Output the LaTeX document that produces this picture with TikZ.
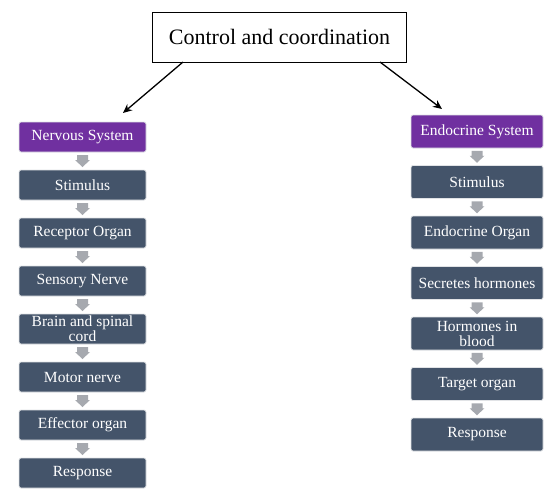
\documentclass[tikz,border=0pt]{standalone}
\usepackage{fontspec}
\setmainfont{Liberation Serif}
\usetikzlibrary{arrows.meta,calc}
\definecolor{purp}{RGB}{112,48,160}
\definecolor{slate}{RGB}{68,84,106}
\definecolor{agrey}{RGB}{166,169,175}
\definecolor{edge}{RGB}{225,227,230}
\tikzset{
  titlebox/.style={draw=black, line width=0.8pt, fill=white, minimum width=254pt, minimum height=50pt, inner sep=0pt, font=\fontsize{22}{24}\selectfont},
  basebox/.style={rounded corners=2pt, draw=edge, line width=0.8pt, text=white, inner sep=0pt, align=center, font=\fontsize{15.5}{15}\selectfont},
  lbox/.style={basebox, fill=slate, minimum width=127pt, minimum height=30pt},
  lhead/.style={lbox, fill=purp},
  rbox/.style={basebox, fill=slate, minimum width=132pt, minimum height=33pt},
  rhead/.style={rbox, fill=purp},
  mainarrow/.style={-{Stealth[length=9pt,width=8pt]}, line width=1.3pt, black},
  blockarrow/.pic={\fill[agrey] (-5.5,-6) -- (5.5,-6) -- (5.5,-1) -- (7.5,-1) -- (0,6) -- (-7.5,-1) -- (-5.5,-1) -- cycle;}
}
\begin{document}
\begin{tikzpicture}[x=1pt,y=-1pt]
\useasboundingbox (0,0) rectangle (557,498);
\node[titlebox] (title) at (279.5,37) {Control and coordination};
% left column
\node[lhead] (n0) at (82.5,137) {Nervous System};
\node[lbox] (n1) at (82.5,185) {Stimulus};
\node[lbox] (n2) at (82.5,233) {Receptor Organ};
\node[lbox] (n3) at (82.5,281) {Sensory Nerve};
\node[lbox] (n4) at (82.5,329) {Brain and spinal\\cord};
\node[lbox] (n5) at (82.5,377) {Motor nerve};
\node[lbox] (n6) at (82.5,425) {Effector organ};
\node[lbox] (n7) at (82.5,473) {Response};
% right column
\node[rhead] (e0) at (477,131.5) {Endocrine System};
\node[rbox] (e1) at (477,182) {Stimulus};
\node[rbox] (e2) at (477,232.5) {Endocrine Organ};
\node[rbox] (e3) at (477,283) {Secretes hormones};
\node[rbox] (e4) at (477,333.5) {Hormones in\\blood};
\node[rbox] (e5) at (477,384) {Target organ};
\node[rbox] (e6) at (477,434.5) {Response};
% main arrows
\coordinate (ls) at (183,62);
\coordinate (le) at (123,113);
\coordinate (rs) at (380,62);
\coordinate (re) at (442,109);
\draw[mainarrow] (ls) -- (le);
\draw[mainarrow] (rs) -- (re);
% block arrows
\foreach \a/\b in {n0/n1,n1/n2,n2/n3,n3/n4,n4/n5,n5/n6,n6/n7,e0/e1,e1/e2,e2/e3,e3/e4,e4/e5,e5/e6}
  \pic at ($(\a.south)!0.5!(\b.north)$) {blockarrow};
\end{tikzpicture}
\end{document}
